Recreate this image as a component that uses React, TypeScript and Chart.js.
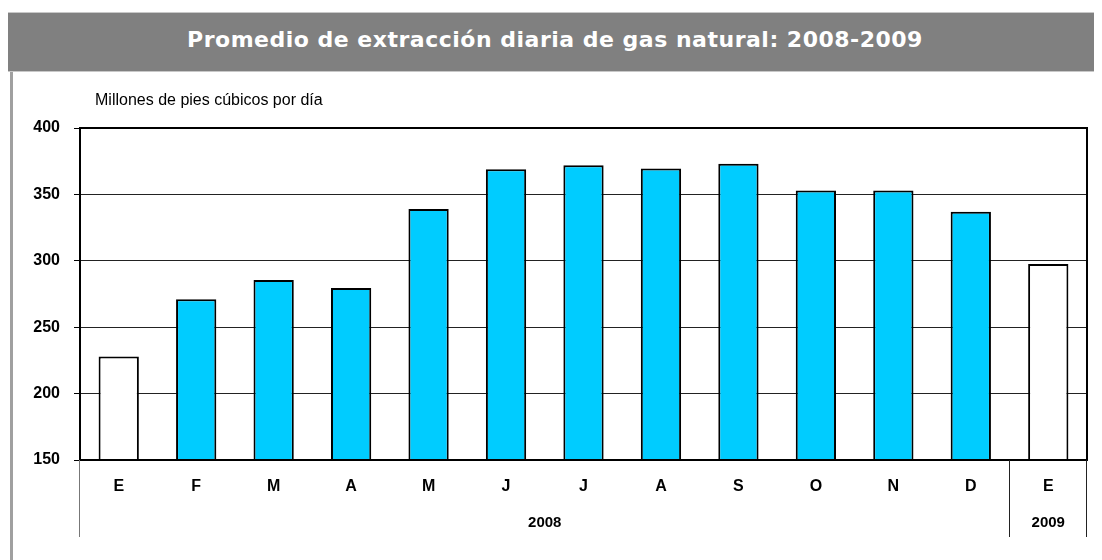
import React, { useEffect, useRef } from 'react';
import { Chart, registerables } from 'chart.js';

Chart.register(...registerables);

// ---- Data ----
const chartTitle = 'Promedio de extracción diaria de gas natural: 2008-2009';
const unitLabel = 'Millones de pies cúbicos por día';
const months = ['E', 'F', 'M', 'A', 'M', 'J', 'J', 'A', 'S', 'O', 'N', 'D', 'E'];
const extraction = [228, 271, 285.5, 279.5, 339, 369, 372, 369.5, 373, 353, 353, 337, 297.5];
const yearLabels = ['2008', '2009'];
const yearMonthCounts = [12, 1];
const yMin = 150;
const yMax = 400;
const yStep = 50;

const FONT = '"Liberation Sans", Arial, sans-serif';
const BLUE = '#00CCFF';

const framePlugin = {
  id: 'frame',
  afterDatasetsDraw(chart: any) {
    const { ctx, chartArea: a } = chart;
    ctx.save();
    ctx.strokeStyle = '#000';
    ctx.lineWidth = 2;
    ctx.strokeRect(a.left, a.top, a.right - a.left, a.bottom - a.top);
    ctx.restore();
  },
};

const unitLabelPlugin = {
  id: 'unitLabel',
  afterDraw(chart: any) {
    const { ctx, chartArea: a } = chart;
    ctx.save();
    ctx.fillStyle = '#000';
    ctx.font = `16px ${FONT}`;
    ctx.textAlign = 'left';
    ctx.textBaseline = 'middle';
    ctx.fillText(unitLabel, a.left + 15, a.top - 27);
    ctx.restore();
  },
};

const yearGroupPlugin = {
  id: 'yearGroups',
  afterDraw(chart: any) {
    const { ctx, chartArea: a } = chart;
    const x = chart.scales.x;
    const half = (x.getPixelForValue(1) - x.getPixelForValue(0)) / 2;
    const top = a.bottom;
    const bottom = top + 77;
    const line = (px: number, color: string) => {
      const xx = Math.round(px) - 0.5;
      ctx.beginPath();
      ctx.strokeStyle = color;
      ctx.lineWidth = 1;
      ctx.moveTo(xx, top);
      ctx.lineTo(xx, bottom);
      ctx.stroke();
    };
    ctx.save();
    line(x.getPixelForValue(0) - half, '#777');
    ctx.fillStyle = '#000';
    ctx.font = `bold 15px ${FONT}`;
    ctx.textAlign = 'center';
    ctx.textBaseline = 'middle';
    let start = 0;
    yearLabels.forEach((lab, i) => {
      const end = start + yearMonthCounts[i] - 1;
      const l = x.getPixelForValue(start) - half;
      const r = x.getPixelForValue(end) + half;
      line(r, '#222');
      ctx.fillText(lab, (l + r) / 2, top + 63);
      start = end + 1;
    });
    ctx.restore();
  },
};

export default function App() {
  const canvasRef = useRef<HTMLCanvasElement | null>(null);

  useEffect(() => {
    document.documentElement.style.overflow = 'hidden';
    document.body.style.overflow = 'hidden';
    const canvas = canvasRef.current;
    if (!canvas) return;
    const chart = new Chart(canvas, {
      type: 'bar',
      data: {
        labels: months,
        datasets: [
          {
            data: extraction,
            backgroundColor: months.map((m) => (m === 'E' ? '#FFFFFF' : BLUE)),
            borderColor: '#000',
            borderWidth: 2,
            barPercentage: 0.52,
            categoryPercentage: 1,
          },
        ],
      },
      options: {
        animation: false,
        responsive: false,
        maintainAspectRatio: false,
        layout: { padding: { left: 0, right: 15, top: 56, bottom: 0 } },
        plugins: {
          legend: { display: false },
          tooltip: { enabled: false },
          title: { display: false },
        },
        scales: {
          x: {
            type: 'category',
            grid: { display: false, drawTicks: false },
            border: { display: false },
            ticks: {
              color: '#000',
              padding: 17,
              maxRotation: 0,
              autoSkip: false,
              font: { family: FONT, size: 16, weight: 'bold' },
            },
            afterFit(scale: any) {
              scale.height = 100;
            },
          },
          y: {
            min: yMin,
            max: yMax,
            grid: { color: '#222', lineWidth: 1, drawTicks: true, tickLength: 6, tickColor: '#000' },
            border: { display: false },
            ticks: {
              stepSize: yStep,
              color: '#000',
              padding: 14,
              font: { family: FONT, size: 16, weight: 'bold' },
            },
            afterFit(scale: any) {
              scale.width = 67;
            },
          },
        },
      },
      plugins: [framePlugin, unitLabelPlugin, yearGroupPlugin],
    } as any);
    return () => chart.destroy();
  }, []);

  return (
    <div style={{ marginTop: 4, width: 1094 }}>
      <div
        style={{
          height: 58,
          background: '#808080',
          borderTop: '1px solid #c8c8c8',
          borderBottom: '1px solid #c8c8c8',
          color: '#fff',
          fontFamily: '"DejaVu Sans", Verdana, sans-serif',
          fontWeight: 'bold',
          fontSize: 22,
          letterSpacing: '0.5px',
          lineHeight: '54px',
          textAlign: 'center',
          whiteSpace: 'nowrap',
        }}
      >
        {chartTitle}
      </div>
      <div style={{ marginLeft: 2, borderLeft: '3px solid #a0a0a0', height: 488 }}>
        <canvas ref={canvasRef} width={1089} height={488} style={{ display: 'block', width: 1089, height: 488 }} />
      </div>
    </div>
  );
}
